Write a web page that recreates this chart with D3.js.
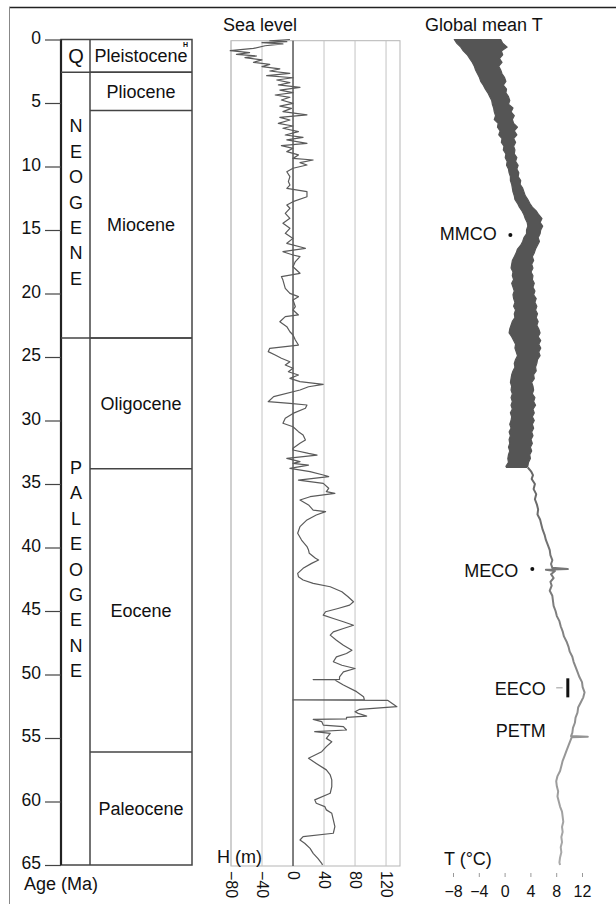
<!DOCTYPE html>
<html><head><meta charset="utf-8">
<script src="https://cdn.jsdelivr.net/npm/d3@7"></script>
<style>
html,body{margin:0;padding:0;background:#fff;}
svg{display:block;}
text{font-family:"Liberation Sans",Arial,sans-serif;fill:#111;}
</style></head>
<body>
<script>
// ---------------- DATA ----------------
const ageTicks = [0,5,10,15,20,25,30,35,40,45,50,55,60,65];
const seaTicks = [-80,-40,0,40,80,120];
const tempTicks = [-8,-4,0,4,8,12];

const eraNames  = ["Q","NEOGENE","PALEOGENE"];
const eraStart  = [0, 2.58, 23.5];
const eraEnd    = [2.58, 23.5, 65];

const epochNames = ["Pleistocene","Pliocene","Miocene","Oligocene","Eocene","Paleocene"];
const epochStart = [0, 2.58, 5.6, 23.5, 33.8, 56.1];
const epochEnd   = [2.58, 5.6, 23.5, 33.8, 56.1, 65];

// sea level (m) vs age (Ma)
const slAge = [0.00,0.10,0.17,0.25,0.35,0.49,0.70,0.88,1.04,1.17,1.30,1.43,1.61,1.80,1.96,2.14,2.32,2.48,2.66,2.85,
3.01,3.19,3.40,3.58,3.77,3.98,4.19,4.37,4.55,4.76,5.03,5.24,5.42,5.68,5.94,6.13,6.34,6.60,6.81,6.99,
7.26,7.52,7.70,7.91,8.18,8.36,8.57,8.83,9.09,9.36,9.49,9.70,9.88,10.14,10.41,10.80,11.19,11.46,11.72,11.98,
12.38,12.77,13.03,13.29,13.69,14.08,14.47,14.87,15.26,15.66,16.05,16.44,16.71,16.97,17.10,17.49,17.89,18.41,18.67,18.94,
19.59,19.99,20.25,20.51,21.04,21.30,21.69,21.82,22.22,22.61,23.01,23.27,23.66,24.06,24.32,24.58,24.84,25.10,25.37,25.63,
25.89,26.16,26.42,26.68,26.94,27.15,27.34,27.60,28.12,28.52,28.65,28.78,29.04,29.44,29.83,30.22,30.49,30.88,31.14,31.54,
31.80,32.19,32.32,32.59,32.72,32.98,33.24,33.37,33.51,33.77,34.03,34.29,34.42,34.69,34.95,35.34,35.60,35.74,36.00,36.26,
36.65,37.05,37.18,37.44,37.83,38.36,38.88,39.41,39.93,40.20,40.46,40.85,40.98,41.25,41.64,42.04,42.30,42.56,42.83,43.09,
43.48,43.88,44.27,44.54,44.80,45.06,45.33,45.59,45.85,46.12,46.38,46.64,46.90,47.30,47.69,48.09,48.35,48.61,49.00,49.27,
49.53,49.79,50.18,50.38,50.40,50.43,50.83,51.35,51.75,51.98,52.00,52.03,52.53,52.74,52.93,53.06,53.27,53.37,53.50,53.53,
53.71,53.98,54.11,54.37,54.50,54.63,55.03,55.29,55.68,56.08,56.60,57.00,57.51,57.91,58.30,58.83,59.35,59.87,60.14,60.40,
60.66,60.93,61.45,61.98,62.50,62.77,63.03,63.29,63.69,64.08,64.48,64.87,65.00];
const slH = [-4,-30,-8,-40,-13,-36,-51,-81,-56,-73,-47,-62,-40,-51,-30,-40,-17,-30,-4,-34,
0,-21,-4,-19,9,-17,0,-23,-4,-15,0,-17,-2,-13,18,-17,-4,-19,0,-13,
7,-10,13,-8,18,-15,0,-8,7,0,26,9,18,0,-8,-4,-6,-4,-8,18,
18,0,-8,-4,-10,-4,-13,-4,-10,0,-8,16,-13,0,9,3,0,9,-15,-13,
-10,-4,7,0,3,0,7,-10,-17,-8,-4,0,3,7,-30,-32,-23,-15,-4,-10,
0,-6,7,-4,9,39,20,9,-25,-32,-4,18,16,0,-10,-13,0,7,13,16,
9,0,0,20,31,-8,9,0,20,-4,22,39,46,7,39,46,43,54,22,9,
20,26,42,30,18,9,6,11,18,20,21,29,33,24,13,6,7,13,26,48,
63,71,78,73,58,42,39,52,65,78,65,52,48,56,65,76,69,56,52,63,
80,65,60,60,26,54,65,82,91,92,0,122,134,86,80,84,95,69,69,26,
37,39,65,69,28,48,43,50,43,37,20,30,43,48,50,50,48,28,30,41,
43,50,52,54,52,13,9,15,22,26,32,37,38];

// global mean temperature: dense record (band) 0-33.7 Ma
const tBandAge = [0.0,0.3,0.6,0.9,1.2,1.5,1.8,2.1,2.4,2.7,3.0,3.3,3.6,3.9,4.2,4.5,4.8,5.1,5.4,5.7,
6.0,6.3,6.6,6.9,7.2,7.5,7.8,8.1,8.4,8.7,9.0,9.3,9.6,9.9,10.2,10.5,10.8,11.1,11.4,11.7,
12.0,12.3,12.6,12.9,13.2,13.5,13.8,14.1,14.4,14.7,15.0,15.3,15.6,15.9,16.2,16.5,16.8,17.1,17.4,17.7,
18.0,18.3,18.6,18.9,19.2,19.5,19.8,20.1,20.4,20.7,21.0,21.3,21.6,21.9,22.2,22.5,22.8,23.1,23.4,23.7,
24.0,24.3,24.6,24.9,25.2,25.5,25.8,26.1,26.4,26.7,27.0,27.3,27.6,27.9,28.2,28.5,28.8,29.1,29.4,29.7,
30.0,30.3,30.6,30.9,31.2,31.5,31.8,32.1,32.4,32.7,33.0,33.3,33.6,33.7];
const tBandLow = [-7.8,-7.4,-6.8,-6.4,-5.8,-5.4,-5.0,-4.7,-4.5,-4.2,-3.9,-3.7,-3.3,-3.0,-2.6,-2.3,-2.0,-1.9,-1.7,-1.6,
-1.4,-1.6,-1.0,-1.1,-0.7,-0.9,-0.4,-0.5,-0.1,-0.2,0.2,0.1,0.4,0.3,0.6,0.7,0.9,0.9,1.1,1.2,
1.3,1.5,1.6,2.0,2.3,2.7,3.0,3.2,3.5,3.6,3.4,3.4,3.0,2.8,2.5,2.0,1.8,1.5,1.2,1.1,
1.0,1.3,1.2,1.4,1.1,1.3,1.5,1.3,1.4,1.6,1.4,1.7,1.5,1.6,1.2,1.0,0.8,0.7,1.1,1.4,
1.7,1.6,1.8,2.0,1.7,1.5,1.6,1.3,1.1,1.0,0.9,1.1,1.0,1.2,1.0,1.2,1.0,1.2,0.9,1.1,
1.0,0.8,1.0,0.7,0.9,0.7,0.8,0.6,0.8,0.6,0.5,0.6,0.2,0.3];
const tBandHigh = [-0.6,-0.3,0.4,-0.5,-0.3,-0.8,-0.4,-0.9,-0.6,-0.4,0.0,0.2,-0.2,0.3,0.2,0.6,0.8,0.6,1.3,1.0,
1.5,1.2,1.4,2.0,1.5,1.9,1.4,1.7,1.4,1.6,1.5,1.9,1.7,2.1,1.9,2.2,2.1,2.5,2.4,2.8,
3.0,3.2,3.6,3.9,4.3,4.9,5.3,5.8,5.5,5.9,5.6,5.5,5.2,5.4,5.1,4.8,4.6,4.3,4.5,4.2,
4.4,4.1,4.4,4.3,4.6,4.4,4.7,4.5,4.9,4.7,5.0,4.8,5.1,4.9,5.2,5.0,5.3,5.5,5.2,5.6,
5.3,5.6,5.3,5.5,5.1,5.0,4.8,4.9,4.5,4.6,4.2,4.4,4.5,4.3,4.7,4.5,4.8,4.4,4.6,4.3,
4.6,4.3,4.5,4.2,4.4,4.1,4.3,4.0,4.2,3.9,4.0,3.7,3.6,3.4];

// global mean temperature: single curve 33.7-65 Ma
const tLineAge = [33.7,34.0,34.3,34.6,35.0,35.4,35.8,36.2,36.6,37.0,37.4,37.8,38.2,38.6,39.0,39.4,39.8,40.2,40.6,41.0,
41.3,41.6,41.7,41.75,41.85,42.1,42.4,42.7,43.0,43.4,43.8,44.2,44.6,45.0,45.4,45.8,46.2,46.6,47.0,47.4,
47.8,48.2,48.6,49.0,49.4,49.8,50.2,50.6,51.0,51.4,51.8,52.2,52.6,53.0,53.4,53.8,54.2,54.6,54.85,54.9,
54.95,55.2,55.6,56.0,56.4,56.8,57.2,57.6,58.0,58.4,58.8,59.2,59.6,60.0,60.4,60.8,61.2,61.6,62.0,62.4,
62.8,63.2,63.6,64.0,64.4,64.8,65.0];
const tLineT = [3.6,4.1,4.4,4.2,4.7,4.5,4.9,4.7,5.0,5.2,5.1,5.5,5.7,5.9,6.2,6.4,6.7,7.0,7.1,7.4,
7.2,7.4,9.8,6.4,7.8,7.2,7.6,7.1,7.3,7.0,7.4,7.5,7.6,7.9,8.1,8.5,8.7,9.0,9.2,9.6,
9.9,10.1,10.5,10.7,11.0,11.3,11.6,12.0,12.1,12.4,12.2,11.8,11.4,11.3,11.0,10.9,10.6,10.5,10.3,12.9,
10.4,10.2,9.9,9.6,9.3,9.0,8.8,8.6,8.2,8.0,8.1,8.3,8.2,8.4,8.6,8.9,9.0,9.1,8.9,9.0,
8.8,8.9,8.7,8.8,8.6,8.5,8.6];

// climate events
const eventNames = ["MMCO","MECO","EECO","PETM"];
const eventLabelAge = [15.3, 41.85, 51.15, 54.4];
const eventLabelT   = [-1.2, 2.1, 6.4, 6.4];
const dotAge = [15.4, 41.7];
const dotT   = [0.9, 4.3];
const eecoAge = [50.3, 51.8];
const eecoT = 9.8;

// ---------------- CHART ----------------
const W = 616, H = 904;
const svg = d3.select("body").append("svg").attr("width", W).attr("height", H);
const font = '"Liberation Sans", Arial, sans-serif';

const y = d3.scaleLinear().domain([0, 65]).range([39.5, 865]);
const xSea = d3.scaleLinear().domain([-80, 138]).range([231, 400]);
const xT = d3.scaleLinear().domain([-8, 12]).range([453, 582]);

// outer frame
svg.append("line").attr("x1", 9).attr("x2", W).attr("y1", 7.5).attr("y2", 7.5)
  .attr("stroke", "#222").attr("stroke-width", 1.6);
svg.append("line").attr("x1", 9.5).attr("x2", 9.5).attr("y1", 7).attr("y2", H)
  .attr("stroke", "#888").attr("stroke-width", 1);

// ---- stratigraphic column ----
const colL = 61, colM = 90, colR = 192;
const strat = svg.append("g");
strat.append("rect").attr("x", colL).attr("y", y(0)).attr("width", colR - colL).attr("height", y(65) - y(0))
  .attr("fill", "none").attr("stroke", "#444").attr("stroke-width", 1.5);
strat.append("line").attr("x1", colM).attr("x2", colM).attr("y1", y(0)).attr("y2", y(65))
  .attr("stroke", "#444").attr("stroke-width", 1.5);
strat.append("line").attr("x1", colL).attr("x2", colL).attr("y1", y(0)).attr("y2", y(65))
  .attr("stroke", "#222").attr("stroke-width", 2.2);
eraEnd.slice(0, 2).forEach(a => {
  strat.append("line").attr("x1", colL).attr("x2", colR).attr("y1", y(a)).attr("y2", y(a))
    .attr("stroke", "#444").attr("stroke-width", 1.5);
});
epochEnd.slice(0, 5).forEach(a => {
  strat.append("line").attr("x1", colM).attr("x2", colR).attr("y1", y(a)).attr("y2", y(a))
    .attr("stroke", "#444").attr("stroke-width", 1.5);
});
epochNames.forEach((n, i) => {
  strat.append("text").attr("x", (colM + colR) / 2).attr("y", y((epochStart[i] + epochEnd[i]) / 2))
    .attr("dy", "0.35em").attr("text-anchor", "middle").style("font-size", "18px").text(n);
});
strat.append("text").attr("x", 185.5).attr("y", 47).attr("text-anchor", "middle")
  .style("font-size", "7px").style("font-weight", "bold").text("H");
const eraLetterCenter = [1.29, 12.8, 41.7];
const letterStep = 25.4;
eraNames.forEach((n, i) => {
  const letters = n.split("");
  const cy = y(eraLetterCenter[i]);
  letters.forEach((ch, j) => {
    strat.append("text").attr("x", (colL + colM) / 2 + 0.5)
      .attr("y", cy + (j - (letters.length - 1) / 2) * letterStep)
      .attr("dy", "0.36em").attr("text-anchor", "middle")
      .style("font-size", n === "Q" ? "20px" : "18px").text(ch);
  });
});

// age axis
const ageAxis = svg.append("g").attr("transform", `translate(${colL},0)`)
  .call(d3.axisLeft(y).tickValues(ageTicks).tickSize(16).tickPadding(4).tickFormat(d3.format("d")));
ageAxis.select(".domain").remove();
ageAxis.selectAll(".tick line").attr("stroke", "#444").attr("stroke-width", 1.2);
ageAxis.selectAll(".tick text").style("font-family", font).style("font-size", "17.5px").attr("fill", "#111").attr("dy", "0.21em");
svg.append("text").attr("x", 24).attr("y", 890).style("font-size", "18px").text("Age (Ma)");

// ---- sea level panel ----
const seaTop = y(0) + 1.2, seaBot = 866;
svg.append("text").attr("x", 223).attr("y", 31).style("font-size", "18px").text("Sea level");
const grid = svg.append("g");
grid.append("rect").attr("x", xSea(-80)).attr("y", seaTop).attr("width", xSea(138) - xSea(-80))
  .attr("height", seaBot - seaTop).attr("fill", "none").attr("stroke", "#b5b5b5").attr("stroke-width", 1);
seaTicks.forEach(v => {
  grid.append("line").attr("x1", xSea(v)).attr("x2", xSea(v)).attr("y1", seaTop).attr("y2", seaBot)
    .attr("stroke", v === 0 ? "#555" : "#c4c4c4").attr("stroke-width", v === 0 ? 1.5 : 1);
});
const seaLine = d3.line().x(d => xSea(d[1])).y(d => y(d[0]));
svg.append("path").datum(d3.zip(slAge, slH)).attr("d", seaLine)
  .attr("fill", "none").attr("stroke", "#5a5a5a").attr("stroke-width", 1.2).attr("stroke-linejoin", "round");
const seaAxis = svg.append("g").attr("transform", `translate(0,${seaBot})`)
  .call(d3.axisBottom(xSea).tickValues(seaTicks).tickSize(0));
seaAxis.select(".domain").remove();
seaAxis.selectAll(".tick text").attr("transform", "rotate(90)").attr("x", 5).attr("y", 0)
  .attr("dy", "0.36em").style("text-anchor", "start").style("font-family", font)
  .style("font-size", "16px").attr("fill", "#111");
svg.append("text").attr("x", 262).attr("y", 863).attr("text-anchor", "end").style("font-size", "18px").text("H (m)");

// ---- temperature panel ----
svg.append("text").attr("x", 425).attr("y", 31).style("font-size", "18px").text("Global mean T");
const band = d3.area().y(d => y(d[0])).x0(d => xT(d[1])).x1(d => xT(d[2]));
svg.append("path").datum(d3.zip(tBandAge, tBandLow, tBandHigh)).attr("d", band)
  .attr("fill", "#555").attr("stroke", "#555").attr("stroke-width", 1.2).attr("stroke-linejoin", "round");
const defs = svg.append("defs");
const grad = defs.append("linearGradient").attr("id", "tgrad").attr("gradientUnits", "userSpaceOnUse")
  .attr("x1", 0).attr("x2", 0).attr("y1", y(34)).attr("y2", y(65));
grad.append("stop").attr("offset", 0).attr("stop-color", "#666");
grad.append("stop").attr("offset", 0.5).attr("stop-color", "#888");
grad.append("stop").attr("offset", 1).attr("stop-color", "#aaa");
const tLine = d3.line().x(d => xT(d[1])).y(d => y(d[0]));
svg.append("path").datum(d3.zip(tLineAge, tLineT)).attr("d", tLine)
  .attr("fill", "none").attr("stroke", "url(#tgrad)").attr("stroke-width", 2).attr("stroke-linejoin", "round");

eventNames.forEach((n, i) => {
  svg.append("text").attr("x", xT(eventLabelT[i])).attr("y", y(eventLabelAge[i])).attr("dy", "0.35em")
    .attr("text-anchor", "end").style("font-size", "18px").text(n);
});
dotAge.forEach((a, i) => {
  svg.append("circle").attr("cx", xT(dotT[i])).attr("cy", y(a)).attr("r", 2).attr("fill", "#111");
});
svg.append("line").attr("x1", xT(eecoT)).attr("x2", xT(eecoT)).attr("y1", y(eecoAge[0])).attr("y2", y(eecoAge[1]))
  .attr("stroke", "#111").attr("stroke-width", 3);
svg.append("line").attr("x1", xT(8.0)).attr("x2", xT(9.0)).attr("y1", y(d3.mean(eecoAge))).attr("y2", y(d3.mean(eecoAge)))
  .attr("stroke", "#999").attr("stroke-width", 1);

const tAxis = svg.append("g").attr("transform", "translate(0,873)")
  .call(d3.axisBottom(xT).tickValues(tempTicks).tickSize(4).tickPadding(9));
tAxis.select(".domain").remove();
tAxis.selectAll(".tick line").attr("stroke", "#999");
tAxis.selectAll(".tick text").style("font-family", font).style("font-size", "16px").attr("fill", "#111");
svg.append("text").attr("x", 444).attr("y", 865).style("font-size", "18px").text("T (°C)");
</script>
</body></html>
